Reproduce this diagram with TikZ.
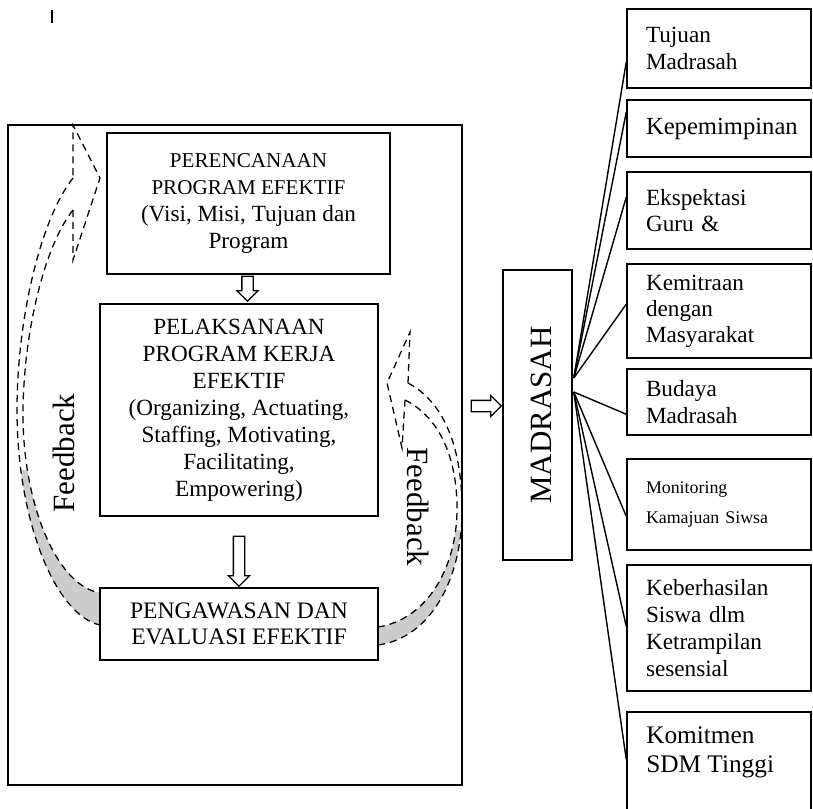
\documentclass[tikz,border=0pt]{standalone}
\usepackage{fontspec}
\setmainfont{Liberation Serif}
\usetikzlibrary{positioning,calc,shapes.arrows}

\newcommand{\pxu}{0.025cm}
\newcommand{\besar}{\fontsize{16.5}{19.2}\selectfont}

\tikzset{
  kotak/.style={draw, line width=1.1pt, fill=white, inner sep=0pt, align=center,
    font=\besar},
  kotakkanan/.style={draw, line width=1.1pt, inner xsep=0pt, inner ysep=0pt,
    minimum width=184*\pxu, text width=146*\pxu, align=left,
    font=\fontsize{16.5}{18.6}\selectfont},
  panah/.style={single arrow, draw, line width=0.9pt, fill=white,
    inner xsep=0pt, inner ysep=5*\pxu, single arrow head extend=5*\pxu},
  umpan/.style={dash pattern=on 5pt off 3.5pt, line width=0.9pt},
  garis/.style={line width=1pt},
  judul/.style={font=\fontsize{22}{26}\selectfont, inner sep=0pt}
}

\begin{document}
\begin{tikzpicture}[x=\pxu, y=-\pxu]
  \useasboundingbox (0,0) rectangle (813,808);
  \clip (0,0) rectangle (813,808);

  % kursor
  \draw[line width=1.4pt] (52,10) -- (52,23);

  % bingkai kiri
  \draw[line width=1.1pt] (8,125) rectangle (462,785);

  % feedback kiri
  \begin{scope}
    \clip (0,470) rectangle (120,700);
    \fill[gray!40] (73,178) .. controls (40,220) and (17,320) .. (17,410)
      .. controls (17,520) and (55,615) .. (100,625) -- (100,593)
      .. controls (55,585) and (22,500) .. (23,410)
      .. controls (24,330) and (45,245) .. (73,210) -- cycle;
  \end{scope}
  \draw[umpan] (73,178) .. controls (40,220) and (17,320) .. (17,410)
    .. controls (17,520) and (55,615) .. (100,625);
  \draw[umpan] (73,210) .. controls (45,245) and (24,330) .. (23,410)
    .. controls (22,500) and (55,585) .. (100,593);
  \draw[umpan] (73,210) -- (73,260) -- (100,178) -- (73,125) -- (73,178);

  % feedback kanan
  \begin{scope}
    \clip (360,530) rectangle (470,700);
    \fill[gray!40] (408,383) .. controls (440,400) and (462,440) .. (462,510)
      .. controls (462,580) and (430,638) .. (378,645) -- (378,627)
      .. controls (425,620) and (458,570) .. (457,505)
      .. controls (456,450) and (435,415) .. (405,400) -- cycle;
  \end{scope}
  \draw[umpan] (408,383) .. controls (440,400) and (462,440) .. (462,510)
    .. controls (462,580) and (430,638) .. (378,645);
  \draw[umpan] (405,400) .. controls (435,415) and (456,450) .. (457,505)
    .. controls (458,570) and (425,620) .. (378,627);
  \draw[umpan] (408,383) -- (410,332) -- (387,383) -- (402,448) -- (405,400);

  % kotak kiri
  \node[kotak, minimum width=283*\pxu, minimum height=141*\pxu,
    font=\fontsize{15}{19.2}\selectfont] (rencana) at (248.5,203.5)
    {PERENCANAAN\\PROGRAM EFEKTIF\\\besar(Visi, Misi, Tujuan dan\\\besar Program};
  \node[kotak, minimum width=278*\pxu, minimum height=212*\pxu] (laksana) at (239,410)
    {PELAKSANAAN\\PROGRAM KERJA\\EFEKTIF\\(Organizing, Actuating,\\Staffing, Motivating,\\Facilitating,\\Empowering)};
  \node[kotak, minimum width=278*\pxu, minimum height=72*\pxu,
    font=\fontsize{16.8}{18.6}\selectfont] (awas) at (239,624)
    {PENGAWASAN DAN\\EVALUASI EFEKTIF};

  \node[judul, rotate=90] (fbkiri) at (64,453) {Feedback};
  \node[judul, rotate=-90] (fbkanan) at (418,507) {Feedback};

  % madrasah
  \node[kotak, minimum width=69*\pxu, minimum height=290*\pxu] (madrasah) at (537.5,415) {};
  \node[judul, rotate=90] (madrasahteks) at ($(madrasah.center)+(4,0)$) {MADRASAH};

  % panah
  \node[panah, rotate=-90, minimum height=25*\pxu, anchor=tip] (panah1) at ($(laksana.north)+(8.5,-1)$) {};
  \node[panah, rotate=-90, minimum height=50*\pxu, anchor=tip] (panah2) at (awas.north) {};
  \node[panah, minimum height=30*\pxu, anchor=tip] (panah3) at ($(madrasah.west)+(0,-9)$) {};

  % kotak kanan
  \node[kotakkanan, minimum height=79*\pxu] (r1) at (719,48.5) {Tujuan\\Madrasah};
  \node[kotakkanan, minimum height=57*\pxu, font=\fontsize{17.5}{20}\selectfont] (r2) at (719,128.5) {Kepemimpinan};
  \node[kotakkanan, minimum height=77*\pxu] (r3) at (719,210.5) {Ekspektasi\\Guru \&};
  \node[kotakkanan, minimum height=94*\pxu] (r4) at (719,311) {Kemitraan\\dengan\\Masyarakat};
  \node[kotakkanan, minimum height=66*\pxu] (r5) at (719,402) {Budaya\\Madrasah};
  \node[kotakkanan, minimum height=91*\pxu, font=\fontsize{12.7}{22}\selectfont] (r6) at (719,504.5)
    {Monitoring\\Kamajuan Siwsa};
  \node[kotakkanan, minimum height=126*\pxu, font=\fontsize{16.5}{19.2}\selectfont] (r7) at (719,628)
    {Keberhasilan\\Siswa dlm\\Ketrampilan\\sesensial};
  \node[kotakkanan, minimum height=128*\pxu] (r8) at (719,776) {};
  \node[anchor=base west, align=left, inner sep=0pt, font=\fontsize{18}{20.6}\selectfont] (r8teks) at (646,772)
    {Komitmen\\SDM Tinggi};

  % garis ke kotak kanan
  \coordinate (hubatas) at ($(madrasah.east)+(1,-37)$);
  \coordinate (hubbawah) at ($(madrasah.east)+(1,-23)$);
  \foreach \nama/\dy in {r1/54, r2/13, r3/26, r4/41}
    \draw[garis] (hubatas) -- ($(\nama.north west)+(0,\dy)$);
  \foreach \nama/\dy in {r5/46, r6/58, r7/62, r8/48}
    \draw[garis] (hubbawah) -- ($(\nama.north west)+(0,\dy)$);
\end{tikzpicture}
\end{document}
